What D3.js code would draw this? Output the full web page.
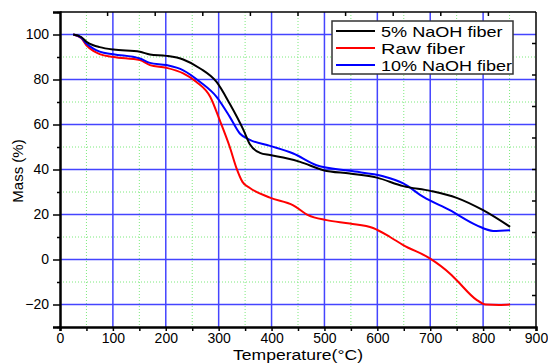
<!DOCTYPE html>
<html>
<head>
<meta charset="utf-8">
<script src="https://cdn.jsdelivr.net/npm/d3@7"></script>
<style>
  body { margin: 0; background: #fff; }
  text { font-family: "Liberation Sans", Arial, sans-serif; }
</style>
</head>
<body>
<svg width="548" height="364"></svg>
<script>
// temperature (°C) and mass (%)
const fiber5T = [25, 40, 50, 63, 75, 101, 151, 170, 201, 233, 265, 296, 321, 347, 359, 378, 397, 422, 454, 498, 548, 599, 649, 700, 750, 800, 851];
const fiber5M = [100, 98.9, 96.8, 95.2, 94.4, 93.3, 92.3, 91.1, 90.5, 88.9, 84.9, 78.9, 69.2, 57.5, 51.2, 47.4, 46.4, 45.3, 43.4, 39.7, 38.2, 36.4, 32.6, 30.5, 27.4, 21.9, 14.5];

const rawT = [25, 40, 50, 63, 75, 101, 151, 170, 201, 233, 258, 284, 302, 321, 334, 345, 359, 397, 441, 469, 504, 548, 592, 624, 649, 700, 737, 750, 787, 805, 830, 851];
const rawM = [100, 98.4, 95.2, 92.7, 91.3, 90, 88.6, 86.4, 85.2, 82.7, 78.9, 72.3, 61.9, 50, 40.4, 34.5, 31.8, 27.5, 24.1, 19.7, 17.5, 16, 14, 10, 6.4, 0.4, -6.2, -9.2, -17.8, -20, -20.2, -20];

const fiber10T = [25, 40, 50, 63, 75, 101, 151, 170, 201, 233, 265, 296, 321, 340, 359, 397, 441, 485, 548, 611, 649, 687, 737, 788, 819, 851];
const fiber10M = [100, 98.6, 96, 93.7, 92.4, 91.2, 89.3, 87.4, 86.4, 84.1, 78.9, 72.3, 63.4, 56, 53.2, 50.5, 47.1, 41.9, 39.4, 37, 33.8, 27.8, 21.9, 15.2, 12.7, 13];

const seriesNames = ['5% NaOH fiber', 'Raw fiber', '10% NaOH fiber'];
const seriesColors = ['#000000', '#ff0000', '#0000ff'];

const xMajor = [0, 100, 200, 300, 400, 500, 600, 700, 800, 900];
const xMinor = [50, 150, 250, 350, 450, 550, 650, 750, 850];
const yMajor = [-20, 0, 20, 40, 60, 80, 100];
const yMinor = [-30, -10, 10, 30, 50, 70, 90, 110];

const svg = d3.select('svg');
const pLeft = 60, pRight = 536, pTop = 12, pBottom = 327;

const x = d3.scaleLinear().domain([0, 900]).range([pLeft, pRight]);
const y = d3.scaleLinear().domain([-30, 110]).range([pBottom, pTop]);

const g = svg.append('g');

// minor grid (green dotted)
g.selectAll('.gxm').data(xMinor).enter().append('line')
  .attr('x1', (d) => x(d)).attr('x2', (d) => x(d))
  .attr('y1', pTop).attr('y2', pBottom)
  .attr('stroke', '#7dea7d').attr('stroke-width', 1).attr('stroke-dasharray', '1,2');
g.selectAll('.gym').data(yMinor.filter((d) => d > -30 && d < 110)).enter().append('line')
  .attr('x1', pLeft).attr('x2', pRight)
  .attr('y1', (d) => y(d)).attr('y2', (d) => y(d))
  .attr('stroke', '#7dea7d').attr('stroke-width', 1).attr('stroke-dasharray', '1,2');

// major grid (blue)
g.selectAll('.gx').data(xMajor.filter((d) => d > 0 && d < 900)).enter().append('line')
  .attr('x1', (d) => x(d)).attr('x2', (d) => x(d))
  .attr('y1', pTop).attr('y2', pBottom)
  .attr('stroke', '#4444ff').attr('stroke-width', 1.5);
g.selectAll('.gy').data(yMajor).enter().append('line')
  .attr('x1', pLeft).attr('x2', pRight)
  .attr('y1', (d) => y(d)).attr('y2', (d) => y(d))
  .attr('stroke', '#4444ff').attr('stroke-width', 1.5);

// curves
const series = [
  fiber5T.map((t, i) => [t, fiber5M[i]]),
  rawT.map((t, i) => [t, rawM[i]]),
  fiber10T.map((t, i) => [t, fiber10M[i]]),
];
const line = d3.line()
  .x((d) => x(d[0]))
  .y((d) => y(d[1]))
  .curve(d3.curveMonotoneX);

// draw raw first, then blue, then black on top
[1, 2, 0].forEach((i) => {
  g.append('path')
    .attr('d', line(series[i]))
    .attr('fill', 'none')
    .attr('stroke', seriesColors[i])
    .attr('stroke-width', 2);
});

// frame: top and right ticks are plain equal divisions
g.append('line').attr('x1', pLeft).attr('x2', pRight).attr('y1', pTop).attr('y2', pTop)
  .attr('stroke', '#000').attr('stroke-width', 1.5);
g.append('line').attr('x1', pRight).attr('x2', pRight).attr('y1', pTop).attr('y2', pBottom)
  .attr('stroke', '#000').attr('stroke-width', 1.5);
const topDiv = d3.range(1, 10).map((i) => pLeft + (pRight - pLeft) * i / 10);
g.selectAll('.tt').data(topDiv).enter().append('line')
  .attr('x1', (d) => d).attr('x2', (d) => d)
  .attr('y1', pTop).attr('y2', pTop + 4)
  .attr('stroke', '#000').attr('stroke-width', 1.5);
const rightDiv = d3.range(1, 10).map((i) => pTop + (pBottom - pTop) * i / 10);
g.selectAll('.rt').data(rightDiv).enter().append('line')
  .attr('x1', pRight - 4).attr('x2', pRight)
  .attr('y1', (d) => d).attr('y2', (d) => d)
  .attr('stroke', '#000').attr('stroke-width', 1.5);

// bottom axis
g.append('g')
  .attr('transform', `translate(0,${pBottom})`)
  .call(d3.axisBottom(x).tickValues(xMajor).tickSize(4).tickPadding(2).tickFormat(d3.format('d')));
g.append('g')
  .attr('transform', `translate(0,${pBottom})`)
  .call(d3.axisBottom(x).tickValues(xMinor).tickSize(4).tickFormat(''))
  .select('.domain').remove();

// left axis
g.append('g')
  .attr('transform', `translate(${pLeft},0)`)
  .call(d3.axisLeft(y).tickValues(yMajor).tickSize(7).tickPadding(4).tickFormat(d3.format('d')));
g.append('g')
  .attr('transform', `translate(${pLeft},0)`)
  .call(d3.axisLeft(y).tickValues(yMinor).tickSize(3).tickFormat(''))
  .select('.domain').remove();

svg.selectAll('.domain').attr('stroke-width', 2.5).attr('stroke', '#000');
svg.selectAll('.tick line').attr('stroke-width', 1.5).attr('stroke', '#000');
svg.selectAll('.tick text')
  .attr('font-size', '14px')
  .attr('font-family', '"Liberation Sans", Arial, sans-serif')
  .attr('fill', '#000');

// axis titles
svg.append('text')
  .attr('x', 298).attr('y', 360)
  .attr('text-anchor', 'middle')
  .attr('font-size', '15px')
  .attr('textLength', 130)
  .attr('lengthAdjust', 'spacingAndGlyphs')
  .text('Temperature(°C)');
svg.append('text')
  .attr('transform', 'translate(23,171) rotate(-90)')
  .attr('text-anchor', 'middle')
  .attr('font-size', '15px')
  .text('Mass (%)');

// legend
const lg = svg.append('g').attr('transform', 'translate(332,21)');
lg.append('rect')
  .attr('width', 181).attr('height', 53)
  .attr('fill', '#fff').attr('stroke', '#333').attr('stroke-width', 1.5);
const rows = lg.selectAll('.row').data(seriesNames).enter().append('g')
  .attr('transform', (d, i) => `translate(0,${10 + i * 17})`);
rows.append('line')
  .attr('x1', 4).attr('x2', 43).attr('y1', 0).attr('y2', 0)
  .attr('stroke', (d, i) => seriesColors[i]).attr('stroke-width', 2);
rows.append('text')
  .attr('x', 49).attr('y', 5.5)
  .attr('font-size', '15px')
  .attr('textLength', (d) => d.length * 9.35)
  .attr('lengthAdjust', 'spacingAndGlyphs')
  .text((d) => d);
</script>
</body>
</html>
